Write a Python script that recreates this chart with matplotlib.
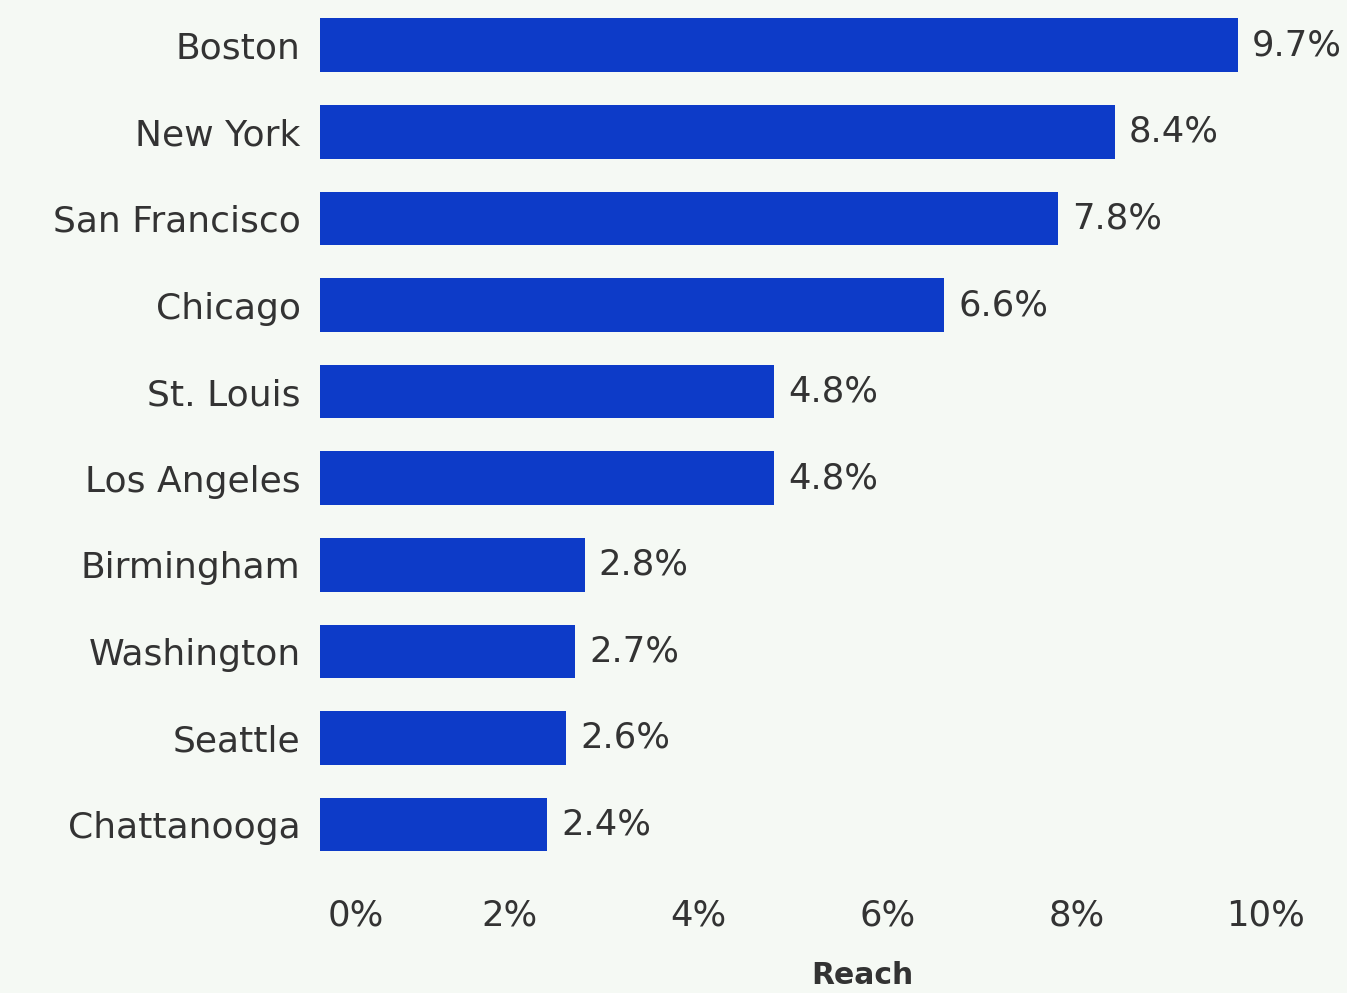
import matplotlib.pyplot as plt
from matplotlib.transforms import ScaledTranslation

# Reach by city
cities = ['Boston', 'New York', 'San Francisco', 'Chicago', 'St. Louis',
          'Los Angeles', 'Birmingham', 'Washington', 'Seattle', 'Chattanooga']
reach = [9.7, 8.4, 7.8, 6.6, 4.8, 4.8, 2.8, 2.7, 2.6, 2.4]
xticks = [0, 2, 4, 6, 8, 10]

bg = '#f5f9f4'
bar_color = '#0d3bc8'
text_color = '#333333'

fig = plt.figure(figsize=(13.47, 9.93), dpi=100, facecolor=bg)
ax = fig.add_axes([0.2376, 0.126, 0.7023, 0.872], facecolor=bg)

ypos = list(range(len(cities)))
ax.barh(ypos, reach, height=0.62, color=bar_color)
ax.set_ylim(len(cities) - 0.5, -0.5)
ax.set_xlim(0, 10)

for y, v in zip(ypos, reach):
    ax.annotate(f'{v}%', (v, y), xytext=(10, 0), textcoords='offset points',
                va='center', ha='left', fontsize=25.5, color=text_color)

ax.set_yticks(ypos)
ax.set_yticklabels(cities, fontsize=26, color=text_color)
ax.set_xticks(xticks)
ax.set_xticklabels([f'{t}%' for t in xticks], fontsize=25.5, color=text_color)
ax.tick_params(axis='y', length=0, pad=14)
ax.tick_params(axis='x', length=0, pad=22)

# first tick label sits just inside the bar start
first = ax.get_xticklabels()[0]
first.set_horizontalalignment('left')
first.set_transform(first.get_transform() + ScaledTranslation(0.08, 0, fig.dpi_scale_trans))

ax.set_xlabel('Reach', fontsize=21.5, fontweight='bold', color=text_color)
ax.xaxis.set_label_coords(0.573, -0.108)

for s in ax.spines.values():
    s.set_visible(False)

fig.savefig('out.png', dpi=100, facecolor=bg)
